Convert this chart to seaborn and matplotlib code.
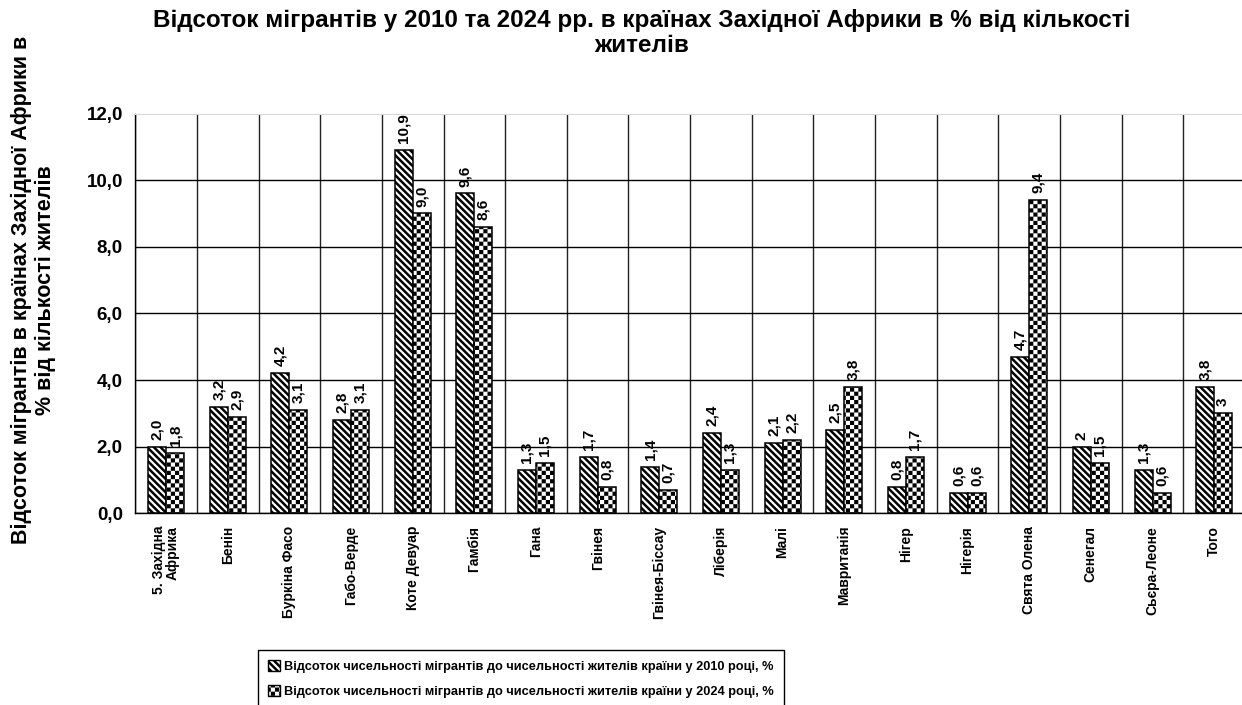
import warnings
import numpy as np
import pandas as pd
import matplotlib
matplotlib.use("Agg")
import matplotlib.pyplot as plt
import matplotlib.hatch as mhatch
from matplotlib.path import Path
from matplotlib.patches import Patch
import seaborn as sns

warnings.filterwarnings("ignore")

countries = ["5. Західна\nАфрика", "Бенін", "Буркіна Фасо", "Габо-Верде", "Коте Девуар",
             "Гамбія", "Гана", "Гвінея", "Гвінея-Біссау", "Ліберія", "Малі", "Мавританія",
             "Нігер", "Нігерія", "Свята Олена", "Сенегал", "Сьєра-Леоне", "Того"]
share_2010 = [2.0, 3.2, 4.2, 2.8, 10.9, 9.6, 1.3, 1.7, 1.4, 2.4, 2.1, 2.5, 0.8, 0.6, 4.7, 2, 1.3, 3.8]
share_2024 = [1.8, 2.9, 3.1, 3.1, 9.0, 8.6, 1.5, 0.8, 0.7, 1.3, 2.2, 3.8, 1.7, 0.6, 9.4, 1.5, 0.6, 3]
labels_2010 = ["2,0", "3,2", "4,2", "2,8", "10,9", "9,6", "1,3", "1,7", "1,4", "2,4", "2,1", "2,5",
               "0,8", "0,6", "4,7", "2", "1,3", "3,8"]
labels_2024 = ["1,8", "2,9", "3,1", "3,1", "9,0", "8,6", "1,5", "0,8", "0,7", "1,3", "2,2", "3,8",
               "1,7", "0,6", "9,4", "1,5", "0,6", "3"]
series = ["Відсоток чисельності мігрантів до чисельності жителів країни у 2010 році, %",
          "Відсоток чисельності мігрантів до чисельності жителів країни у 2024 році, %"]


# extra hatch patterns: 'd' = dense back-diagonal stripes, 'c' = checkerboard
class DiagHatch(mhatch.HatchPatternBase):
    def __init__(self, hatch, density):
        self.n = hatch.count('d') * 15
        self.num_vertices = (2 * self.n + 1) * 2 if self.n else 0

    def set_vertices_and_codes(self, vertices, codes):
        c = np.linspace(0, 2, 2 * self.n + 1)
        vertices[0::2, 0] = c - 1
        vertices[0::2, 1] = 1
        vertices[1::2, 0] = c
        vertices[1::2, 1] = 0
        codes[0::2] = Path.MOVETO
        codes[1::2] = Path.LINETO


class CheckerHatch(mhatch.HatchPatternBase):
    def __init__(self, hatch, density):
        self.n = hatch.count('c') * 24
        self.num_vertices = (self.n * self.n // 2) * 5 if self.n else 0

    def set_vertices_and_codes(self, vertices, codes):
        s = 1.0 / self.n
        inset = plt.rcParams['hatch.linewidth'] / 72 / 2
        sq = np.array([[0, 0], [1, 0], [1, 1], [0, 1], [0, 0]]) * (s - 2 * inset) + inset
        parts = [sq + [i * s, j * s] for i in range(self.n) for j in range(self.n) if (i + j) % 2 == 0]
        vertices[:] = np.concatenate(parts)
        codes[:] = np.tile([Path.MOVETO, Path.LINETO, Path.LINETO, Path.LINETO, Path.CLOSEPOLY], len(parts))


mhatch._hatch_types.extend([DiagHatch, CheckerHatch])

sns.set_style("white")
plt.rcParams['font.family'] = ['Liberation Sans', 'DejaVu Sans']
plt.rcParams['font.weight'] = 'bold'
plt.rcParams['text.color'] = 'black'
plt.rcParams['xtick.color'] = 'black'
plt.rcParams['ytick.color'] = 'black'
plt.rcParams['axes.labelcolor'] = 'black'
plt.rcParams['hatch.linewidth'] = 1.8
plt.rcParams['hatch.color'] = 'black'

df = pd.DataFrame({
    "country": countries * 2,
    "value": share_2010 + share_2024,
    "year": [series[0]] * len(countries) + [series[1]] * len(countries),
})

fig = plt.figure(figsize=(12.42, 7.05), dpi=100)
ax = fig.add_axes([0.1089, 0.2719, 0.8935, 0.5671])

sns.barplot(data=df, x="country", y="value", hue="year", palette=["white", "white"],
            saturation=1, edgecolor="black", linewidth=1.1, width=0.584, legend=False, ax=ax)

hatches = ['d', 'c']
for cont, h, labs in zip(ax.containers, hatches, [labels_2010, labels_2024]):
    for bar in cont:
        bar.set_hatch(h)
    ax.bar_label(cont, labels=labs, rotation=90, padding=5, fontsize=11, fontweight='bold', color='black')

ax.set_ylim(0, 12)
ax.set_xlim(-0.5, len(countries) - 0.5)
ax.set_yticks(np.arange(0, 12.1, 2))
ax.set_yticklabels([f"{v:.1f}".replace('.', ',') for v in np.arange(0, 12.1, 2)], fontsize=13.5)
ax.set_xticks(range(len(countries)))
ax.set_xticklabels(countries, rotation=90, fontsize=10, linespacing=1.0)
for t in ax.get_xticklabels():
    t.set_multialignment('right')
ax.set_xticks(np.arange(-0.5, len(countries), 1), minor=True)
ax.tick_params(axis='x', which='major', length=0, pad=9)
ax.tick_params(axis='x', which='minor', length=5, width=1, color='black', direction='out')
ax.tick_params(axis='y', which='major', length=5, width=1, color='black', direction='out', pad=4)
ax.set_axisbelow(True)
ax.grid(True, axis='y', which='major', color='black', linewidth=1)
ax.grid(True, axis='x', which='minor', color='#222222', linewidth=1)
ax.grid(False, axis='x', which='major')
ax.get_ygridlines()[-1].set_visible(False)
ax.set_xlabel("")
ax.set_ylabel("")
for side in ['left', 'bottom']:
    ax.spines[side].set_color('black')
    ax.spines[side].set_linewidth(1)
ax.spines['top'].set_color('#d9d9d9')
ax.spines['right'].set_visible(False)

fig.text(0.517, 0.953, "Відсоток мігрантів у 2010 та 2024 рр. в країнах Західної Африки в % від кількості\nжителів",
         ha='center', va='center', fontsize=17.5, fontweight='bold', linespacing=1.1)
fig.text(0.027, 0.589, "Відсоток мігрантів в країнах Західної Африки в\n% від кількості жителів",
         ha='center', va='center', rotation=90, fontsize=15.5, fontweight='bold', linespacing=1.15)

handles = [Patch(facecolor='white', edgecolor='black', hatch=h, linewidth=1) for h in hatches]
leg = fig.legend(handles, series, loc='upper center', bbox_to_anchor=(521 / 1242, 1 - 650 / 705),
                 frameon=True, fancybox=False, edgecolor='black', framealpha=1, borderaxespad=0,
                 handlelength=0.9, handleheight=0.9, handletextpad=0.35, labelspacing=0.95,
                 borderpad=0.8, prop={'weight': 'bold', 'size': 9.2})
leg.get_frame().set_linewidth(1)

fig.savefig("out.png", dpi=100)
